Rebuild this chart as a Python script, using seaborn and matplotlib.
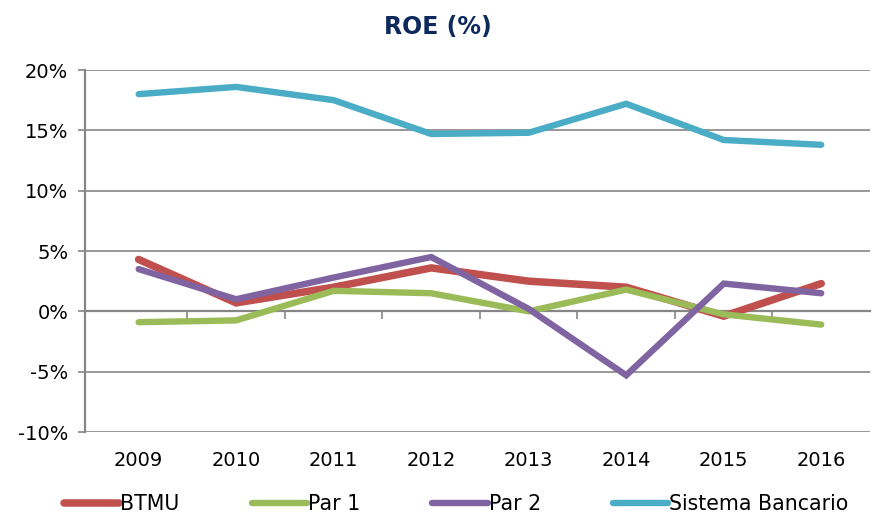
import pandas as pd
import matplotlib
matplotlib.use('Agg')
import matplotlib.pyplot as plt
import seaborn as sns

# Data (ROE in %)
years = ['2009', '2010', '2011', '2012', '2013', '2014', '2015', '2016']
btmu = [4.3, 0.7, 2.0, 3.6, 2.5, 2.0, -0.4, 2.3]
par1 = [-0.9, -0.75, 1.7, 1.5, 0.0, 1.8, -0.25, -1.1]
par2 = [3.5, 1.0, 2.8, 4.5, 0.2, -5.3, 2.3, 1.5]
sistema = [18.0, 18.6, 17.5, 14.7, 14.8, 17.2, 14.2, 13.8]

series_names = ['BTMU', 'Par 1', 'Par 2', 'Sistema Bancario']
colors = ['#C0504D', '#9BBB59', '#8064A2', '#4BACC6']
widths = [5.4, 4.6, 4.6, 4.6]

# Long-form table
df = pd.DataFrame({
    'year': years * 4,
    'roe': btmu + par1 + par2 + sistema,
    'serie': [s for s in series_names for _ in years],
})
df['x'] = df['year'].map({y: i for i, y in enumerate(years)})

sns.set_style('white')
plt.rcParams['font.family'] = ['DejaVu Sans']
plt.rcParams['text.color'] = 'black'
plt.rcParams['xtick.color'] = 'black'
plt.rcParams['ytick.color'] = 'black'

fig = plt.figure(figsize=(8.76, 5.15), dpi=100)
ax = fig.add_axes([85 / 876, 1 - 432 / 515, 785 / 876, 362 / 515])

grid_col = '#868686'
for v in [-10, -5, 5, 10, 15, 20]:
    ax.axhline(v, color=grid_col, lw=1.2, zorder=0)

# x axis line at 0% with boundary tick marks
sec = ax.secondary_xaxis(1 / 3)
sec.spines['bottom'].set_color(grid_col)
sec.spines['bottom'].set_linewidth(1.6)
sec.set_xticks([i + 0.5 for i in range(len(years) - 1)])
sec.tick_params(axis='x', length=6, width=1.2, color=grid_col, labelbottom=False)

for name, col, lw in zip(series_names, colors, widths):
    sub = df[df['serie'] == name]
    sns.lineplot(data=sub, x='x', y='roe', color=col, lw=lw, ax=ax,
                 label=name, solid_capstyle='round', solid_joinstyle='miter',
                 zorder=3)

ax.set_xlim(-0.55, 7.5)
ax.set_ylim(-10, 20)
ticks = [-10, -5, 0, 5, 10, 15, 20]
ax.set_yticks(ticks)
ax.set_yticklabels([f'{v}%' for v in ticks], fontsize=14)
ax.set_xticks(range(len(years)))
ax.set_xticklabels(years, fontsize=14)
ax.tick_params(axis='x', length=0, pad=14, labelcolor='black')
ax.tick_params(axis='y', length=5, width=1.2, color=grid_col, left=True, pad=7,
               labelcolor='black')
ax.set_xlabel('')
ax.set_ylabel('')

for s in ['top', 'right', 'bottom']:
    ax.spines[s].set_visible(False)
ax.spines['left'].set_color(grid_col)
ax.spines['left'].set_linewidth(1.6)

fig.text(0.5, 1 - 27 / 515, 'ROE (%)', ha='center', va='center', fontsize=17,
         fontweight='bold', color='#0E2A5C')

ax.legend(loc='center left', bbox_to_anchor=(-0.027, -0.2), ncol=4, frameon=False,
          fontsize=14.8, handlelength=2.7, columnspacing=3.5, handletextpad=0.05,
          borderpad=0, borderaxespad=0)

fig.savefig('out.png', dpi=100)
